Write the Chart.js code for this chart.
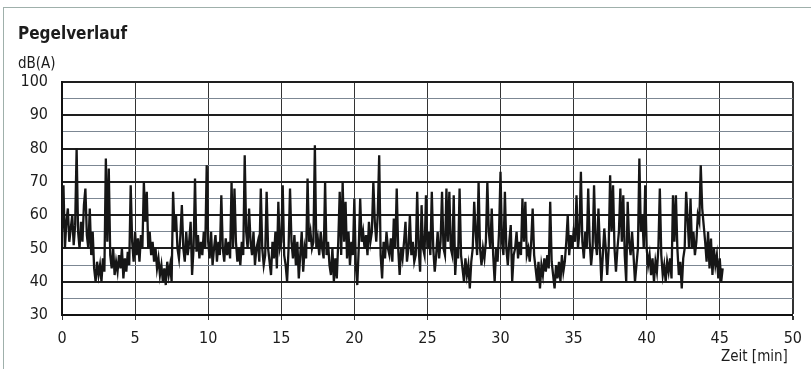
<!DOCTYPE html>
<html lang="de">
<head>
<meta charset="utf-8">
<title>Pegelverlauf</title>
<script src="https://cdn.jsdelivr.net/npm/chart.js@4"></script>
<style>
    html, body { margin: 0; padding: 0; background: #fff; }
    #rahmen { position: relative; width: 811px; height: 369px; overflow: hidden; background: #fff; }
    #kasten { position: absolute; left: 3px; top: 7px; width: 820px; height: 380px; border: 1px solid #9fb0ab; }
    .text { position: absolute; font-family: "DejaVu Sans Condensed", "DejaVu Sans", sans-serif; color: #1c1c1c; white-space: nowrap; }
    #titel { left: 18px; top: 23px; font-size: 17px; font-weight: bold; }
    #einheit { left: 18px; top: 54px; font-size: 15px; }
    #zeit { left: 721px; top: 347px; font-size: 15px; }
    canvas { position: absolute; left: 0; top: 0; }
</style>
</head>
<body>
<div id="rahmen">
    <div id="kasten"></div>
    <canvas id="pegelChart" width="811" height="369"></canvas>
    <div class="text" id="titel">Pegelverlauf</div>
    <div class="text" id="einheit">dB(A)</div>
    <div class="text" id="zeit">Zeit [min]</div>
</div>
<script>
// Messintervall in Minuten (ein Wert alle 6 s)
const intervall = 0.1;

// Schallpegel in dB(A), eine Zeile pro Minute
const pegel = [
    55, 69, 50, 58, 62, 52, 56, 60, 51, 57,
    80, 55, 50, 58, 52, 63, 68, 54, 50, 62,
    48, 55, 44, 40, 46, 42, 45, 40, 47, 43,
    77, 52, 74, 48, 44, 50, 42, 46, 43, 48,
    44, 50, 41, 47, 43, 49, 45, 69, 52, 46,
    55, 48, 53, 46, 54, 50, 70, 58, 67, 50,
    55, 48, 52, 46, 50, 44, 47, 42, 45, 40,
    44, 39, 46, 42, 45, 40, 67, 55, 60, 50,
    47, 54, 63, 50, 46, 55, 48, 52, 58, 42,
    50, 71, 49, 54, 47, 52, 48, 55, 50, 75,
    52, 47, 55, 45, 50, 54, 46, 52, 48, 66,
    50, 46, 53, 48, 52, 47, 70, 50, 68, 52,
    46, 50, 45, 52, 48, 78, 55, 50, 62, 52,
    48, 55, 45, 50, 52, 46, 68, 50, 45, 48,
    67, 50, 46, 42, 52, 47, 55, 44, 64, 50,
    52, 69, 48, 45, 40, 50, 68, 52, 47, 54,
    45, 52, 41, 48, 55, 43, 50, 47, 71, 52,
    55, 50, 52, 81, 50, 53, 48, 55, 50, 47,
    70, 48, 52, 45, 42, 50, 40, 47, 41, 52,
    67, 48, 70, 52, 64, 47, 55, 45, 52, 48,
    65, 45, 39, 50, 65, 52, 55, 50, 54, 48,
    58, 52, 55, 70, 58, 52, 60, 78, 48, 41,
    52, 47, 55, 50, 48, 53, 46, 59, 50, 68,
    50, 42, 50, 47, 52, 58, 46, 50, 60, 48,
    52, 46, 48, 67, 50, 43, 63, 50, 48, 66,
    50, 55, 48, 67, 50, 43, 48, 55, 47, 52,
    67, 50, 48, 68, 52, 67, 50, 48, 66, 42,
    50, 47, 68, 48, 44, 40, 47, 42, 45, 38,
    46, 50, 64, 55, 48, 70, 50, 45, 50, 47,
    52, 70, 55, 50, 62, 48, 40, 50, 46, 55,
    73, 52, 48, 67, 50, 45, 52, 57, 40, 48,
    50, 55, 47, 52, 48, 65, 52, 64, 48, 50,
    46, 52, 62, 48, 44, 40, 46, 38, 45, 42,
    47, 43, 48, 44, 64, 46, 42, 38, 45, 41,
    46, 40, 48, 43, 46, 52, 60, 48, 54, 50,
    55, 52, 66, 50, 55, 73, 52, 47, 55, 50,
    68, 52, 45, 50, 69, 52, 48, 62, 50, 40,
    48, 56, 50, 42, 50, 72, 55, 69, 50, 43,
    50, 55, 68, 52, 66, 48, 40, 64, 52, 48,
    55, 48, 40, 45, 50, 77, 55, 60, 50, 69,
    50, 45, 48, 42, 47, 40, 46, 43, 50, 68,
    48, 42, 45, 40, 46, 43, 47, 41, 66, 52,
    66, 50, 42, 46, 38, 47, 50, 67, 59, 50,
    65, 50, 55, 48, 52, 60, 58, 75, 62, 57,
    52, 46, 55, 44, 53, 42, 50, 45, 48, 41,
    47, 40, 44
];

const xMin = 0, xMax = 50, xSchritt = 5;
const yMin = 30, yMax = 100, ySchritt = 5;

const punkte = pegel.map((wert, i) => ({ x: +(i * intervall).toFixed(1), y: wert }));

const schrift = "'DejaVu Sans Condensed', 'DejaVu Sans', sans-serif";

new Chart(document.getElementById('pegelChart').getContext('2d'), {
    type: 'line',
    data: {
        datasets: [{
            data: punkte,
            borderColor: '#161616',
            borderWidth: 2.3,
            borderJoinStyle: 'miter',
            pointRadius: 0,
            tension: 0,
            fill: false
        }]
    },
    options: {
        responsive: false,
        animation: false,
        events: [],
        layout: { padding: { top: 82, right: 9, left: 0, bottom: 0 } },
        plugins: { legend: { display: false }, tooltip: { enabled: false } },
        scales: {
            x: {
                type: 'linear',
                min: xMin,
                max: xMax,
                afterFit: s => { s.height = 54; },
                ticks: {
                    stepSize: xSchritt,
                    padding: 9,
                    autoSkip: false,
                    maxRotation: 0,
                    color: '#1c1c1c',
                    font: { family: schrift, size: 16 }
                },
                grid: {
                    color: '#333',
                    lineWidth: ctx => ctx.tick && ctx.tick.value === xMax ? 2 : 1,
                    tickLength: 5
                },
                border: { color: '#111', width: 2 }
            },
            y: {
                min: yMin,
                max: yMax,
                afterFit: s => { s.width = 62; },
                ticks: {
                    stepSize: ySchritt,
                    padding: 14,
                    autoSkip: false,
                    color: '#1c1c1c',
                    font: { family: schrift, size: 16 },
                    callback: v => v % 10 === 0 ? v : ''
                },
                grid: {
                    color: ctx => ctx.tick && ctx.tick.value % 10 === 0 ? '#1e1e1e' : '#7c8793',
                    lineWidth: ctx => ctx.tick && ctx.tick.value % 10 === 0 ? 2 : 1,
                    drawTicks: false
                },
                border: { color: '#111', width: 2 }
            }
        }
    }
});
</script>
</body>
</html>
